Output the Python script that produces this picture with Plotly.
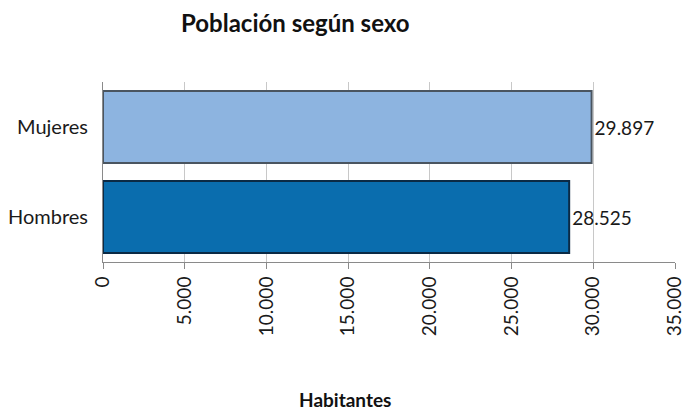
import plotly.graph_objects as go

categories = ["Hombres", "Mujeres"]
values = [28525, 29897]
colors = ["#0A6DAE", "#8DB4E0"]
line_colors = ["#0B2A45", "#4A5560"]
tick_vals = [0, 5000, 10000, 15000, 20000, 25000, 30000, 35000]

FONT = "Lato"
W, H = 685, 412
L, R, T, B = 103, 10, 82, 150
PW, PH = W - L - R, H - T - B


def px_x(x):  # reference pixel -> paper coord
    return (x - L) / PW


def px_y(y):
    return (H - B - y) / PH


fig = go.Figure()
fig.add_trace(go.Bar(
    y=categories, x=values, orientation="h",
    marker=dict(color=colors, line=dict(color=line_colors, width=2)),
    text=[f"{v:,}".replace(",", ".") for v in values],
    textposition="outside", cliponaxis=False,
    textfont=dict(family=FONT, size=19, color="#1a1a1a"),
    width=0.8,
))

fig.update_layout(
    width=W, height=H,
    margin=dict(l=L, r=R, t=T, b=B, autoexpand=False),
    paper_bgcolor="white", plot_bgcolor="white",
    separators=",.",
    showlegend=False,
    font=dict(family=FONT, size=19, color="#1a1a1a"),
    xaxis=dict(
        range=[0, 35000], tickvals=tick_vals, tickformat=",d",
        tickangle=-90, showgrid=True, gridcolor="#c8c8c8", gridwidth=1,
        showline=True, linecolor="#8a8a8a", linewidth=1,
        ticks="outside", ticklen=6, tickcolor="#8a8a8a",
        zeroline=False, tickfont=dict(family=FONT, size=19),
        automargin=False, ticklabelstandoff=0, ticklabeloverflow="allow",
    ),
    yaxis=dict(
        showline=True, linecolor="#8a8a8a", linewidth=1,
        ticks="", showgrid=False, tickfont=dict(family=FONT, size=20),
        automargin=False, ticklabelstandoff=10,
    ),
    annotations=[
        dict(text="<b>Población según sexo</b>", x=px_x(295), y=px_y(22),
             xref="paper", yref="paper", xanchor="center", yanchor="middle",
             showarrow=False, font=dict(family=FONT, size=24, color="#111")),
        dict(text="<b>Habitantes</b>", x=px_x(345), y=px_y(399),
             xref="paper", yref="paper", xanchor="center", yanchor="middle",
             showarrow=False, font=dict(family=FONT, size=19, color="#111")),
    ],
)

fig.write_html(
    "out.html",
    config={"displayModeBar": False},
    post_script="document.body.style.margin='0';document.body.style.overflow='hidden';",
)
